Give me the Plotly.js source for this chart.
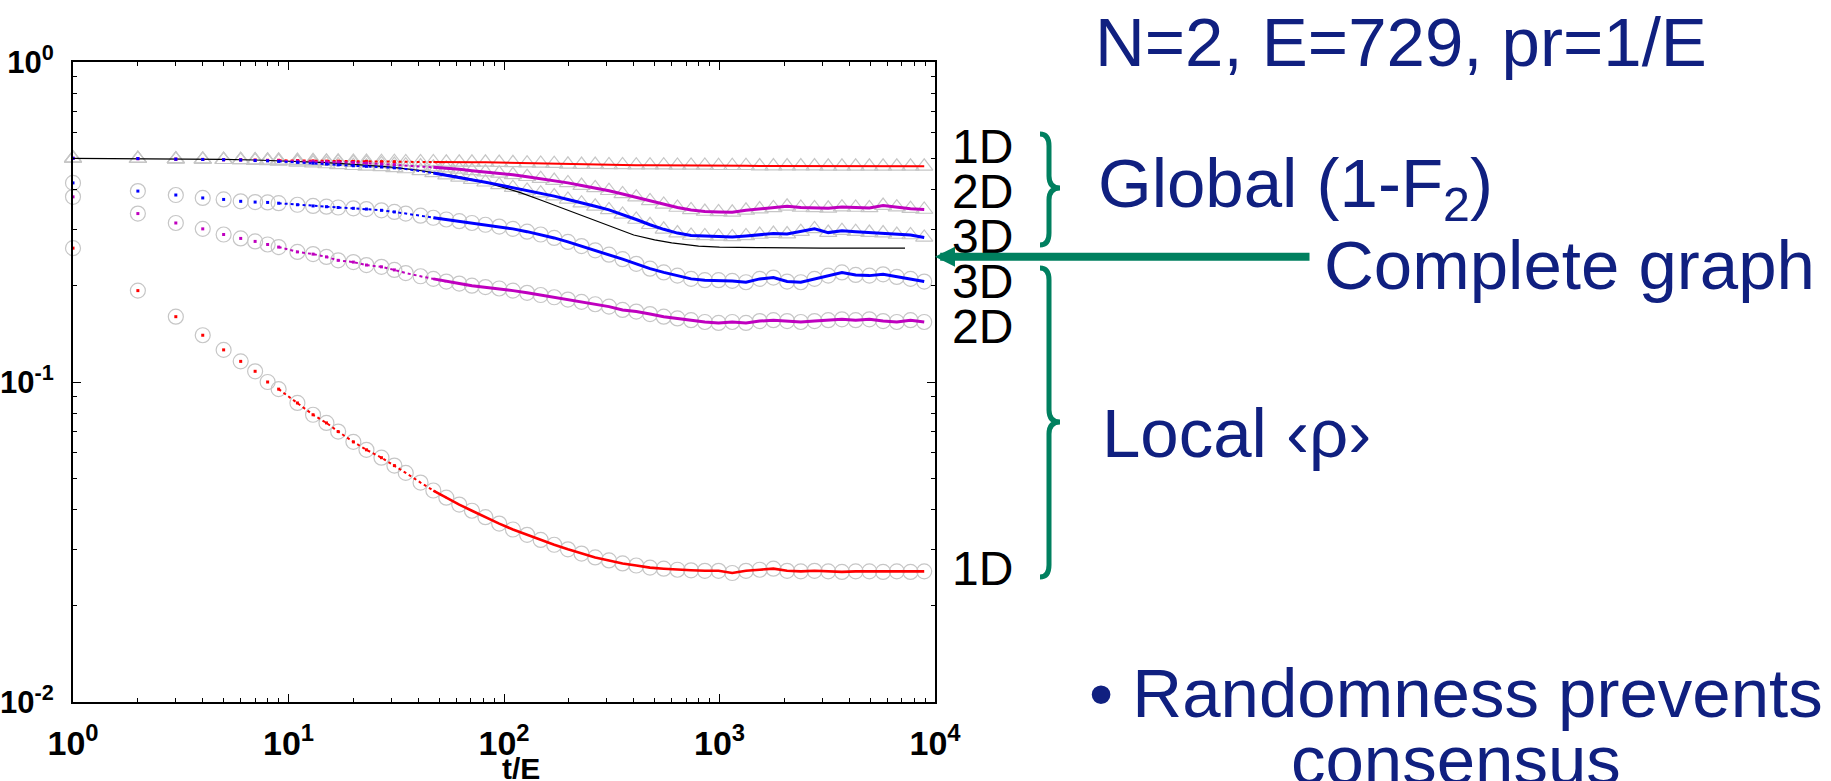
<!DOCTYPE html>
<html><head><meta charset="utf-8">
<script src="https://cdn.plot.ly/plotly-3.0.1.min.js"></script>
<style>html,body{margin:0;padding:0;background:#fff;} #chart{width:1831px;height:781px;}</style>
</head><body><div id="chart"></div>
<script>
// ---- data ----
const tMarks = [1,2,3,4,5,6,7,8,9,
  11,13,15,17,20,23,27,31,
  35,41,47,54,62,71,82,95,
  110,128,148,171,198,229,265,307,
  355,411,476,551,638,738,855,990,
  1146,1327,1536,1779,2059,2384,2760,3196,
  3700,4284,4960,5743,6649,7698,8913];

const local1D = [0.262,0.193,0.160,0.140,0.126,0.116,0.108,0.100,0.095,
  0.086,0.079,0.0745,0.070,0.065,0.0614,0.058,0.0548,
  0.052,0.0485,0.0458,0.0435,0.0414,0.0396,0.0378,0.0361,
  0.0346,0.0333,0.0321,0.0310,0.0300,0.0291,0.0283,0.0277,
  0.0271,0.0267,0.0263,0.0261,0.0259,0.0258,0.0257,0.0257,
  0.0253,0.0257,0.0259,0.0261,0.0257,0.0256,0.0257,0.0256,
  0.0255,0.0256,0.0256,0.0255,0.0256,0.0255,0.0256];

const local2D = [0.379,0.336,0.314,0.301,0.289,0.281,0.275,0.269,0.264,
  0.255,0.251,0.246,0.240,0.237,0.232,0.229,0.224,
  0.219,0.214,0.210,0.206,0.203,0.200,0.198,0.196,
  0.193,0.190,0.187,0.184,0.181,0.178,0.175,0.172,
  0.168,0.166,0.163,0.160,0.158,0.156,0.154,0.153,
  0.154,0.153,0.155,0.156,0.155,0.154,0.155,0.156,
  0.157,0.156,0.157,0.155,0.154,0.156,0.154];

const local3D = [0.419,0.395,0.384,0.376,0.372,0.367,0.365,0.364,0.362,
  0.358,0.355,0.353,0.351,0.349,0.347,0.344,0.340,
  0.336,0.331,0.326,0.322,0.318,0.314,0.310,0.306,
  0.301,0.295,0.289,0.282,0.274,0.266,0.258,0.250,
  0.242,0.234,0.226,0.220,0.215,0.210,0.208,0.208,
  0.207,0.205,0.210,0.212,0.206,0.205,0.210,0.215,
  0.220,0.216,0.215,0.217,0.213,0.210,0.206];

const global1D = [0.500,0.499,0.497,0.496,0.495,0.495,0.494,0.493,0.493,
  0.492,0.491,0.490,0.490,0.489,0.489,0.488,0.488,
  0.487,0.487,0.487,0.486,0.486,0.486,0.486,0.485,
  0.484,0.483,0.482,0.481,0.479,0.478,0.478,0.477,
  0.477,0.476,0.476,0.476,0.475,0.475,0.475,0.474,
  0.474,0.474,0.473,0.473,0.473,0.473,0.473,0.472,
  0.472,0.472,0.472,0.472,0.472,0.472,0.472];

const global2D = [0.500,0.499,0.497,0.496,0.495,0.494,0.493,0.492,0.491,
  0.490,0.489,0.488,0.487,0.485,0.483,0.480,0.478,
  0.476,0.473,0.469,0.466,0.462,0.457,0.453,0.449,
  0.444,0.438,0.432,0.426,0.419,0.411,0.404,0.396,
  0.387,0.378,0.368,0.359,0.351,0.345,0.341,0.340,
  0.339,0.344,0.347,0.350,0.354,0.351,0.350,0.349,
  0.352,0.351,0.350,0.356,0.352,0.348,0.346];

const global3D = [0.500,0.499,0.497,0.496,0.495,0.494,0.492,0.491,0.489,
  0.486,0.483,0.480,0.477,0.474,0.472,0.470,0.467,
  0.463,0.457,0.450,0.443,0.436,0.429,0.421,0.413,
  0.405,0.397,0.389,0.381,0.372,0.362,0.354,0.345,
  0.334,0.322,0.310,0.300,0.292,0.287,0.286,0.285,
  0.284,0.286,0.289,0.291,0.290,0.295,0.301,0.293,
  0.297,0.295,0.293,0.292,0.289,0.288,0.283];

const tComplete = [1,2,3,5,7,10,15,20,30,40,
  50,60,70,80,100,120,150,200,250,300,
  400,500,600,800,1000,1500,2000,3000,5000,7260];
const completeGraph = [0.500,0.499,0.498,0.496,0.494,0.490,0.485,0.479,0.469,0.459,
  0.449,0.440,0.431,0.423,0.405,0.390,0.369,0.343,0.323,0.309,
  0.288,0.278,0.272,0.266,0.264,0.263,0.262,0.262,0.262,0.262];

const xTickVals = [1,10,100,1000,10000];
const xTickText = ['10<sup>0</sup>','10<sup>1</sup>','10<sup>2</sup>','10<sup>3</sup>','10<sup>4</sup>'];
const yTickVals = [0.01,0.1,1];
const yTickText = ['10<sup>-2</sup>','10<sup>-1</sup>','10<sup>0</sup>'];
const xTitle = 't/E';

const curveLabels = ['1D','2D','3D','3D','2D','1D'];

// ---- styling / layout ----
const L=73, R=935, T=62, B=702;
const px = p => (p-L)/(R-L);
const py = p => (B-p)/(B-T);
const FONT = 'Arial, "Liberation Sans", sans-serif';
const NAVY = '#102080';
const GREEN = '#00805f';
const GRAY = '#c6c6c6';
const RED = '#ff0000', BLUE = '#0000ff', MAG = '#bf00bf';

const bold = a => a.map(s => '<b>' + s + '</b>');

function minorVals(d0, d1) {
  const out = [];
  for (let d = d0; d < d1; d++) for (let k = 2; k <= 9; k++) out.push(k * Math.pow(10, d));
  return out;
}

const traces = [];
// gray reference markers
[[global1D,'triangle-up-open'],[global2D,'triangle-up-open'],[global3D,'triangle-up-open'],
 [local1D,'circle-open'],[local2D,'circle-open'],[local3D,'circle-open']].forEach(([ys, sym]) => {
  traces.push({x: tMarks, y: ys, type: 'scatter', mode: 'markers', cliponaxis: false,
    marker: {symbol: sym, size: 15, color: GRAY, line: {color: GRAY, width: 1.2}}, hoverinfo: 'skip'});
});
// complete graph
traces.push({x: tComplete, y: completeGraph, type: 'scatter', mode: 'lines',
  line: {color: 'black', width: 1.2}});
// coloured curves: isolated dots early, dense dots in between, solid noisy band later
[[global1D,RED,2],[global2D,MAG,3],[global3D,BLUE,3],[local1D,RED,2.6],[local2D,MAG,3],[local3D,BLUE,3]].forEach(([ys,c,w]) => {
  const ex=[], ey=[], dx=[], dy=[], lx=[], ly=[];
  tMarks.forEach((t,i) => {
    if (t <= 31) { ex.push(t); ey.push(ys[i]); }
    if (t >= 9 && t <= 54) { dx.push(t); dy.push(ys[i]); }
    if (t >= 47) { lx.push(t); ly.push(ys[i]); }
  });
  traces.push({x: ex, y: ey, type: 'scatter', mode: 'markers', cliponaxis: false,
    marker: {symbol: 'square', size: 3, color: c}});
  traces.push({x: dx, y: dy, type: 'scatter', mode: 'lines', line: {color: c, width: 2, dash: 'dot'}});
  traces.push({x: lx, y: ly, type: 'scatter', mode: 'lines', line: {color: c, width: w}});
});

const axisCommon = {
  type: 'log', tickmode: 'array', ticks: 'inside', ticklen: 8, tickwidth: 1, tickcolor: 'black',
  showline: true, linecolor: 'black', linewidth: 2, mirror: 'ticks', showgrid: false, zeroline: false,
  fixedrange: true
};

const labelY = [146, 191, 236, 281, 326, 568];
const annotations = [];
curveLabels.forEach((s, i) => annotations.push({
  x: px(950), y: py(labelY[i]), xref: 'paper', yref: 'paper', xanchor: 'left', yanchor: 'middle',
  text: s, showarrow: false, font: {family: FONT, size: 48, color: 'black'}
}));
const navyText = (text, x, y) => ({x: px(x), y: py(y), xref: 'paper', yref: 'paper',
  xanchor: 'left', yanchor: 'middle', text: text, showarrow: false,
  font: {family: FONT, size: 69, color: NAVY}});
annotations.push(navyText('N=2, E=729, pr=1/E', 1093, 42));
annotations.push(navyText('Global (1-F<sub>2</sub>)', 1096, 188));
annotations.push(navyText('Complete graph', 1322, 265));
annotations.push(navyText('Local ‹ρ›', 1100, 433));
annotations.push(navyText('• Randomness prevents', 1087, 693));
annotations.push(navyText('consensus', 1289, 760));
// x-axis title
annotations.push({x: px(521), y: py(768), xref: 'paper', yref: 'paper', xanchor: 'center', yanchor: 'middle',
  text: '<b>' + xTitle + '</b>', showarrow: false, font: {family: FONT, size: 30, color: 'black'}});
// arrow to complete graph
annotations.push({x: px(935), y: py(256.7), xref: 'paper', yref: 'paper', text: '',
  showarrow: true, ax: 1311 - 935, ay: 0, axref: 'pixel', ayref: 'pixel',
  arrowhead: 2, arrowsize: 0.5, arrowwidth: 8, arrowcolor: GREEN, standoff: 0, startstandoff: 0});

function brace(xl, xs, xt, yTop, yMid, yBot) {
  const r = 12;
  return `M${px(xl)},${py(yTop)} Q${px(xs)},${py(yTop)} ${px(xs)},${py(yTop + r)} ` +
    `L${px(xs)},${py(yMid - r)} Q${px(xs)},${py(yMid)} ${px(xt)},${py(yMid)} ` +
    `Q${px(xs)},${py(yMid)} ${px(xs)},${py(yMid + r)} L${px(xs)},${py(yBot - r)} ` +
    `Q${px(xs)},${py(yBot)} ${px(xl)},${py(yBot)}`;
}
const shapes = [
  {type: 'path', xref: 'paper', yref: 'paper', path: brace(1040, 1049, 1060, 134, 188, 245),
   line: {color: GREEN, width: 5}},
  {type: 'path', xref: 'paper', yref: 'paper', path: brace(1040, 1049, 1060, 268, 422, 577),
   line: {color: GREEN, width: 5}}
];

const layout = {
  width: 1831, height: 781,
  margin: {l: 73, r: 896, t: 62, b: 79, pad: 0},
  paper_bgcolor: 'white', plot_bgcolor: 'white', showlegend: false,
  font: {family: FONT, color: 'black'},
  xaxis: Object.assign({}, axisCommon, {
    range: [0, 4], tickvals: xTickVals, ticktext: bold(xTickText),
    tickfont: {family: FONT, size: 34, color: 'black'}, ticklabelstandoff: 10,
    minor: {tickmode: 'array', tickvals: minorVals(0, 4), ticks: 'inside', ticklen: 4,
      tickwidth: 1, tickcolor: 'black', showgrid: false}
  }),
  yaxis: Object.assign({}, axisCommon, {
    range: [-2, 0], tickvals: yTickVals, ticktext: bold(yTickText),
    tickfont: {family: FONT, size: 31, color: 'black'}, ticklabelstandoff: 11,
    minor: {tickmode: 'array', tickvals: minorVals(-2, 0), ticks: 'inside', ticklen: 4,
      tickwidth: 1, tickcolor: 'black', showgrid: false}
  }),
  annotations: annotations,
  shapes: shapes
};

Plotly.newPlot('chart', traces, layout, {displayModeBar: false, staticPlot: true});
</script></body></html>
